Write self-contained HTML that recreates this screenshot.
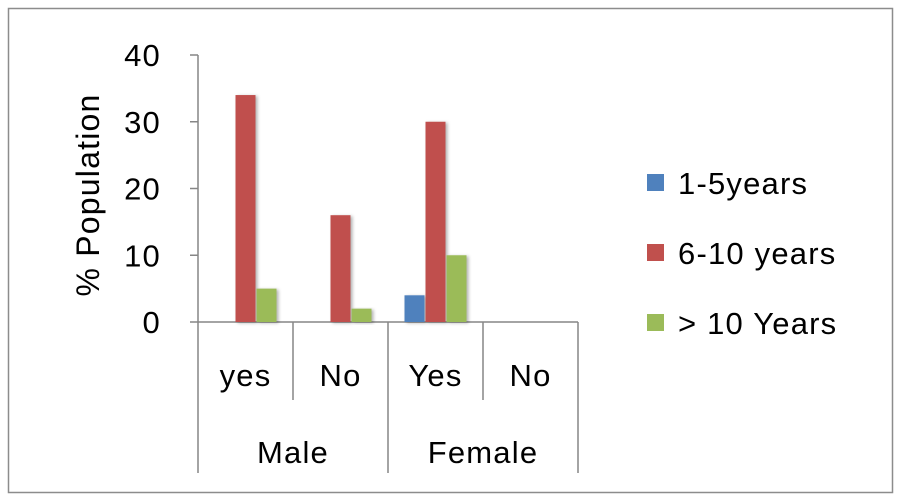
<!DOCTYPE html>
<html><head><meta charset="utf-8"><style>
body{margin:0;background:#fff;}
svg{display:block;font-family:"Liberation Sans",sans-serif;}
text{letter-spacing:1.2px;}
</style></head><body>
<svg id="chart" width="900" height="500">
<defs><filter id="sh" x="-20%" y="-10%" width="160%" height="130%"><feDropShadow dx="2" dy="1" stdDeviation="1.5" flood-color="#000" flood-opacity="0.3"/></filter></defs>
<rect x="8.5" y="8.5" width="884" height="484" fill="#fff" stroke="#8c8c8c" stroke-width="1.5"/>
<g id="axes"></g>
<g id="bars"></g>
<g id="legend"></g>
<text transform="translate(99,195) rotate(-90)" text-anchor="middle" font-size="32" fill="#000">% Population</text>
</svg>
<script>
const categories=["yes","No","Yes","No"];
const groups=["Male","Female"];
const seriesNames=["1-5years","6-10 years","> 10 Years"];
const s1=[0,0,4,0];
const s2=[34,16,30,0];
const s3=[5,2,10,0];
const yTicks=[0,10,20,30,40];
const colors=["#4f81bd","#c0504d","#9bbb59"];
const NS="http://www.w3.org/2000/svg";
const x0=198,x1=578,y0=322,y1=55,yMax=40;
const catW=(x1-x0)/categories.length;
const y=v=>y0-(v/yMax)*(y0-y1);
function mk(tag,attrs,parent,txt){const e=document.createElementNS(NS,tag);for(const k in attrs)e.setAttribute(k,attrs[k]);if(txt!==undefined)e.textContent=txt;parent.appendChild(e);return e;}
const ax=document.getElementById('axes');
let l=mk('line',{x1:x0,y1:y1,x2:x0,y2:y0,stroke:'#868686','stroke-width':1.5},ax);


l=mk('line',{x1:x0,y1:y0,x2:x1,y2:y0,stroke:'#868686','stroke-width':1.5},ax);


yTicks.forEach(t=>{
 const tk=mk('line',{x1:x0-8,y1:y(t),x2:x0,y2:y(t),stroke:'#868686','stroke-width':1.5},ax);
 
 
 const tx=mk('text',{x:161,y:y(t)+11,'text-anchor':'end','font-size':31},ax,t);
 
 
});
for(let i=0;i<=categories.length;i++){
 const xx=x0+i*catW;
 const bottom=(i%2===0)?473:400;
 const d=mk('line',{x1:xx,y1:y0,x2:xx,y2:bottom,stroke:'#868686','stroke-width':1.5},ax);
 
 
}
categories.forEach((c,i)=>{
 const t=mk('text',{x:x0+(i+0.5)*catW,y:386,'text-anchor':'middle','font-size':31},ax,c);
 
 
});
groups.forEach((g,i)=>{
 const t=mk('text',{x:x0+(i+0.5)*2*catW,y:463,'text-anchor':'middle','font-size':31},ax,g);
 
 
});
const bg=document.getElementById('bars');
const series=[s1,s2,s3];
const bw=20;
series.forEach((s,si)=>{
 s.forEach((v,i)=>{
  if(v<=0)return;
  const cx=x0+(i+0.5)*catW;
  const bx=cx-bw/2+(si-1)*(bw+1);
  const r=mk('rect',{x:bx,y:y(v),width:bw,height:y0-y(v),fill:colors[si],filter:'url(#sh)'},bg);
  
  
 });
});
const lg=document.getElementById('legend');
seriesNames.forEach((n,i)=>{
 const ly=183+i*70;
 const r=mk('rect',{x:647,y:ly-9,width:17,height:17,fill:colors[i]},lg);
 
 
 const t=mk('text',{x:678,y:ly+11,'font-size':31},lg,n);
 
 
});
</script>
</body></html>
